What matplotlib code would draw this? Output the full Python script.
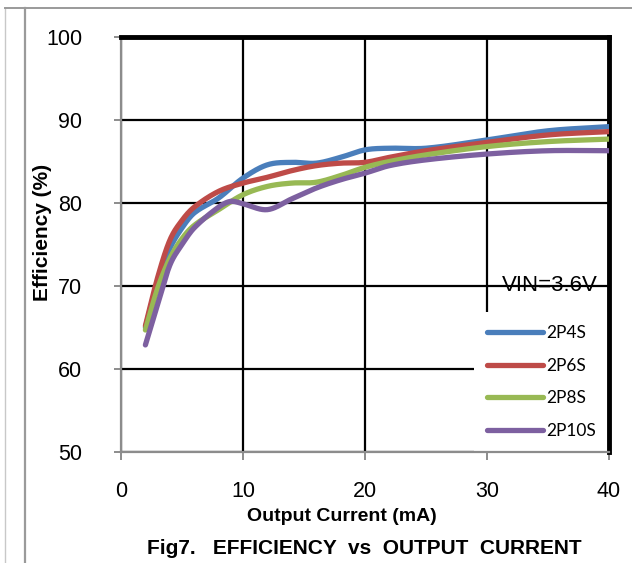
import numpy as np
import matplotlib
matplotlib.use("Agg")
import matplotlib.pyplot as plt
from matplotlib.lines import Line2D

plt.rcParams['font.family'] = ['Liberation Sans', 'DejaVu Sans']

# Output current (mA) and efficiency (%) for each cell configuration
current = [2, 3, 4, 5, 6, 8, 10, 12, 14, 16, 18, 20, 22, 25, 30, 35, 40]
eff_2p4s = [65.0, 70.5, 74.5, 77.0, 78.8, 80.6, 83.0, 84.6, 84.9, 84.8, 85.5, 86.4, 86.6, 86.6, 87.6, 88.7, 89.2]
eff_2p6s = [65.2, 71.0, 75.5, 77.9, 79.5, 81.4, 82.4, 83.1, 83.9, 84.5, 84.8, 84.9, 85.5, 86.3, 87.3, 88.2, 88.6]
eff_2p8s = [64.7, 69.7, 73.3, 75.7, 77.3, 79.2, 81.0, 82.0, 82.4, 82.5, 83.3, 84.3, 85.0, 85.8, 86.8, 87.4, 87.7]
current_10s = [2, 3, 4, 5, 6, 8, 9, 10, 12, 14, 16, 18, 20, 22, 25, 30, 35, 40]
eff_2p10s = [62.9, 67.8, 72.5, 75.0, 77.0, 79.5, 80.2, 79.9, 79.2, 80.5, 81.8, 82.8, 83.6, 84.5, 85.2, 85.9, 86.3, 86.3]

series = [
    ("2P4S", current, eff_2p4s, "#4A7EBB"),
    ("2P6S", current, eff_2p6s, "#BE4B48"),
    ("2P8S", current, eff_2p8s, "#98B954"),
    ("2P10S", current_10s, eff_2p10s, "#7D60A0"),
]


def smooth(x, y, n=30):
    """Cubic Hermite curve through the points (Catmull-Rom style tangents)."""
    x = np.asarray(x, float)
    y = np.asarray(y, float)
    m = np.empty_like(y)
    m[1:-1] = (y[2:] - y[:-2]) / (x[2:] - x[:-2])
    m[0] = (y[1] - y[0]) / (x[1] - x[0])
    m[-1] = (y[-1] - y[-2]) / (x[-1] - x[-2])
    xs, ys = [], []
    for i in range(len(x) - 1):
        h = x[i + 1] - x[i]
        t = np.linspace(0, 1, n, endpoint=(i == len(x) - 2))
        h00 = 2 * t**3 - 3 * t**2 + 1
        h10 = t**3 - 2 * t**2 + t
        h01 = -2 * t**3 + 3 * t**2
        h11 = t**3 - t**2
        xs.append(x[i] + t * h)
        ys.append(h00 * y[i] + h10 * h * m[i] + h01 * y[i + 1] + h11 * h * m[i + 1])
    return np.concatenate(xs), np.concatenate(ys)


W, H = 632, 563
fig = plt.figure(figsize=(W / 100, H / 100), dpi=100)
ax = fig.add_axes([121 / W, 1 - 452 / H, (609 - 121) / W, (452 - 37) / H])

for name, x, y, c in series:
    sx, sy = smooth(x, y)
    ax.plot(sx, sy, color=c, lw=3.8, solid_capstyle='round', label=name, zorder=3)

ax.set_xlim(0, 40)
ax.set_ylim(50, 100)
ax.set_xticks([0, 10, 20, 30, 40])
ax.set_yticks([50, 60, 70, 80, 90, 100])
ax.grid(True, color='black', lw=1.6)
ax.set_axisbelow(True)

for s in ('top', 'right'):
    ax.spines[s].set_color('black')
    ax.spines[s].set_linewidth(3.5)
for s in ('left', 'bottom'):
    ax.spines[s].set_color('#8C8C8C')
    ax.spines[s].set_linewidth(1.6)

ax.tick_params(axis='x', direction='out', length=6, width=1.4, color='#8C8C8C',
               labelsize=15.5, pad=15)
ax.tick_params(axis='y', direction='out', length=5, width=1.4, color='#8C8C8C',
               labelsize=15.5, pad=23)

ax.set_xlabel("Output Current (mA)", fontsize=14, fontweight='bold')
ax.xaxis.set_label_coords(0.453, -0.135)
ax.set_ylabel("Efficiency (%)", fontsize=15, fontweight='bold')
ax.yaxis.set_label_coords(-0.142, 0.53)

ax.text(0.977, 0.402, "VIN=3.6V", transform=ax.transAxes, ha='right', va='center',
        fontsize=16, zorder=4)

# white legend box sits over the grid but under the axis frame
leg = ax.legend(loc='lower right', bbox_to_anchor=(1.0, 0.0), frameon=True,
                fancybox=False, framealpha=1, facecolor='white', edgecolor='none',
                prop={'family': 'Lato', 'size': 12.5}, handlelength=3.2,
                handletextpad=0.2, labelspacing=0.95, borderpad=0.75,
                borderaxespad=0.0)
leg.set_zorder(2.4)

fig.text(364 / W, 1 - 548 / H, "Fig7.   EFFICIENCY  vs  OUTPUT  CURRENT",
         ha='center', va='center', fontsize=15, fontweight='bold')

# page frame lines
fig.add_artist(Line2D([5 / W, 5 / W], [0, 1 - 8 / H], transform=fig.transFigure,
                      color='#C8C8C8', lw=1.0))
fig.add_artist(Line2D([25 / W, 25 / W], [0, 1 - 8 / H], transform=fig.transFigure,
                      color='#9A9A9A', lw=1.6))
fig.add_artist(Line2D([5 / W, 1], [1 - 8 / H, 1 - 8 / H], transform=fig.transFigure,
                      color='#9A9A9A', lw=1.4))

fig.savefig("out.png", dpi=100)
